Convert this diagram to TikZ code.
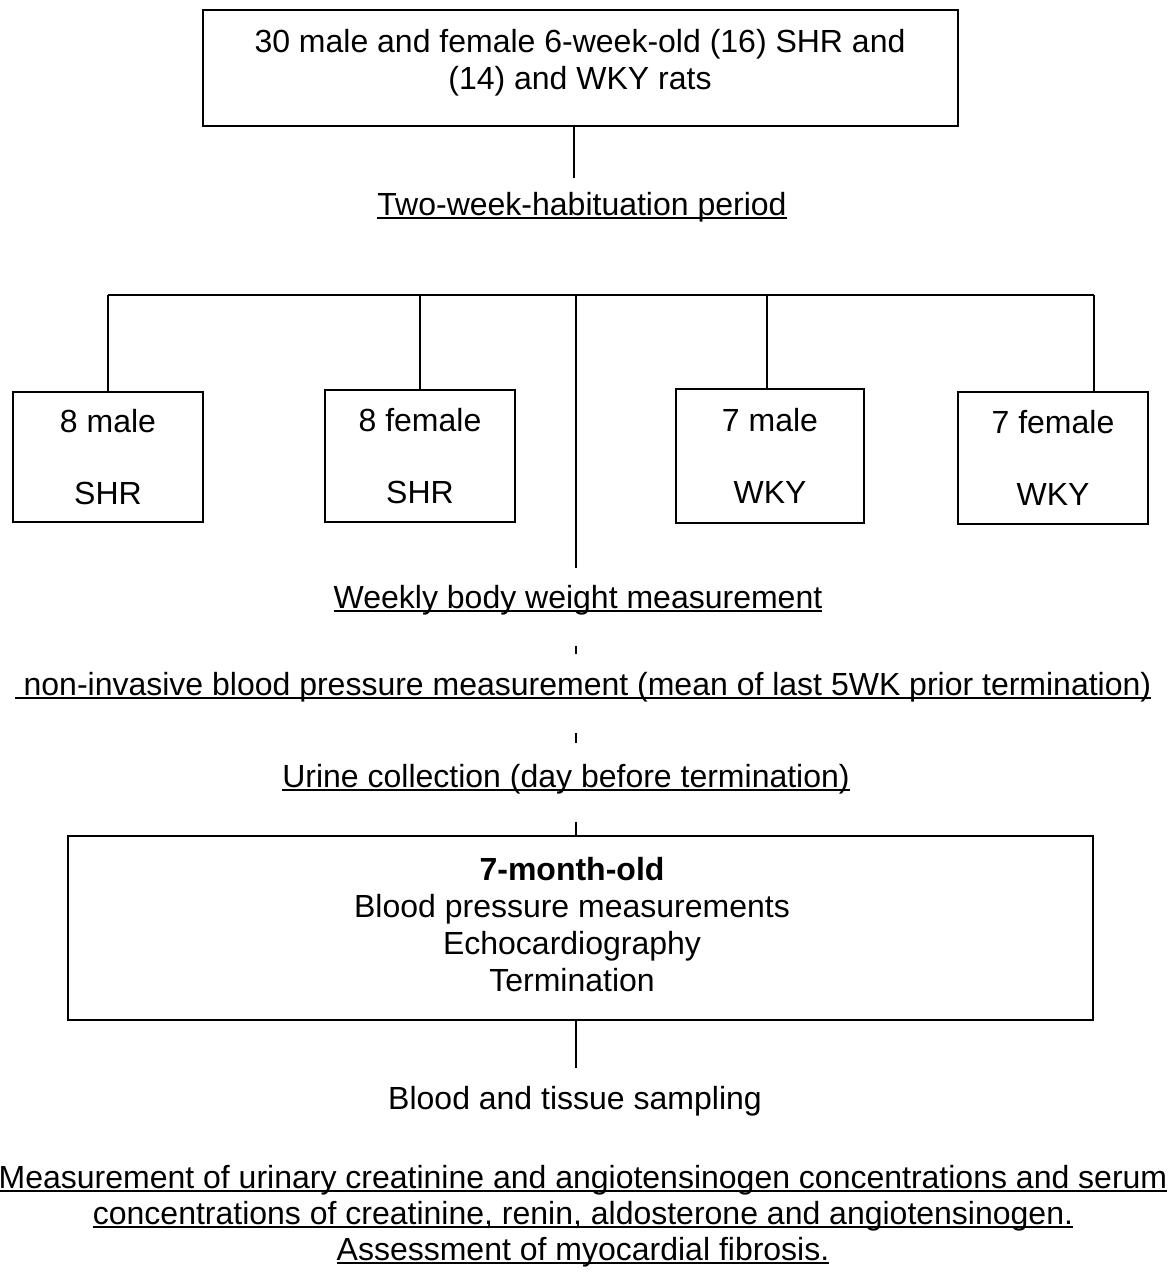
\documentclass[tikz,border=0pt]{standalone}
\usepackage{fontspec}
\setmainfont{Liberation Sans}
\usetikzlibrary{positioning}
% underline drawn just under the baseline
\newcommand{\undl}[1]{\setbox0\hbox{#1}\rlap{\rule[-4pt]{\wd0}{1.8pt}}\box0}

\begin{document}
\begin{tikzpicture}[x=1pt,y=-1pt,
    box/.style={draw, line width=2pt, inner sep=0pt},
    lbl/.style={align=center, inner sep=0pt, font=\fontsize{32}{37}\selectfont},
    link/.style={line width=1.2pt}]
    \useasboundingbox (0,0) rectangle (1173,1281);

    %%%%% cohort %%%%%
    \node[box, minimum width=755, minimum height=116] (cohort) at (580.5,68) {};
    \node[lbl] (cohorttxt) at (580,62.5) {30 male and female 6-week-old (16) SHR and\\(14) and WKY rats};
    \node[lbl] (habit) at (582,207) {\undl{Two-week-habituation period}};
    \draw[link, shorten >=14pt] ([xshift=-6.5]cohort.south) -- ([xshift=-6.5]cohort.south |- habit.north);

    %%%%% groups %%%%%
    \coordinate (busL) at (108,295);
    \coordinate (busC) at (576,295);
    \coordinate (busR) at (1094,295);
    \draw[link] (busL) -- (busR);

    \node[box, lbl, minimum width=190, minimum height=130] (shrm) at (108,457) {8 male\\[35pt]SHR};
    \node[box, lbl, minimum width=190, minimum height=132] (shrf) at (420,456) {8 female\\[35pt]SHR};
    \node[box, lbl, minimum width=188, minimum height=134] (wkym) at (770,456) {7 male\\[35pt]WKY};
    \node[box, lbl, minimum width=190, minimum height=132] (wkyf) at (1053,458) {7 female\\[35pt]WKY};

    \draw[link] (busL) -- (shrm.north);
    \draw[link] (shrf.north |- busC) -- (shrf.north);
    \draw[link] (767,295) -- (767,389);
    \draw[link] (busR) -- (busR |- wkyf.north);

    %%%%% measurements %%%%%
    \node[lbl] (weekly) at (578,600) {\undl{Weekly body weight measurement}};
    \node[lbl] (nibp) at (583,687) {\undl{\ non-invasive blood pressure measurement (mean of last 5WK prior termination)}};
    \node[lbl] (urine) at (566,779) {\undl{Urine collection (day before termination)}};

    \draw[link, shorten >=17pt] (busC) -- (busC |- weekly.north);
    \draw[link, shorten <=31pt, shorten >=18pt] (weekly.south -| busC) -- (nibp.north -| busC);
    \draw[link, shorten <=31pt, shorten >=21pt] (nibp.south -| busC) -- (urine.north -| busC);

    %%%%% termination %%%%%
    \node[box, minimum width=1025, minimum height=184] (final) at (580.5,928) {};
    \node[lbl] (finaltxt) at (572,925) {\textbf{7-month-old}\\Blood pressure measurements\\Echocardiography\\Termination};
    \draw[link, shorten <=28pt] (urine.south -| busC) -- (final.north -| busC);

    \node[lbl] (sampling) at (575,1101) {Blood and tissue sampling};
    \draw[link, shorten >=18pt] (final.south -| busC) -- (sampling.north -| busC);

    \node[lbl, font=\fontsize{32}{36}\selectfont] (assays) at (583,1216) {\undl{Measurement of urinary creatinine and angiotensinogen concentrations and serum}\\
        \undl{concentrations of creatinine, renin, aldosterone and angiotensinogen.}\\
        \undl{Assessment of myocardial fibrosis.}};
\end{tikzpicture}
\end{document}
